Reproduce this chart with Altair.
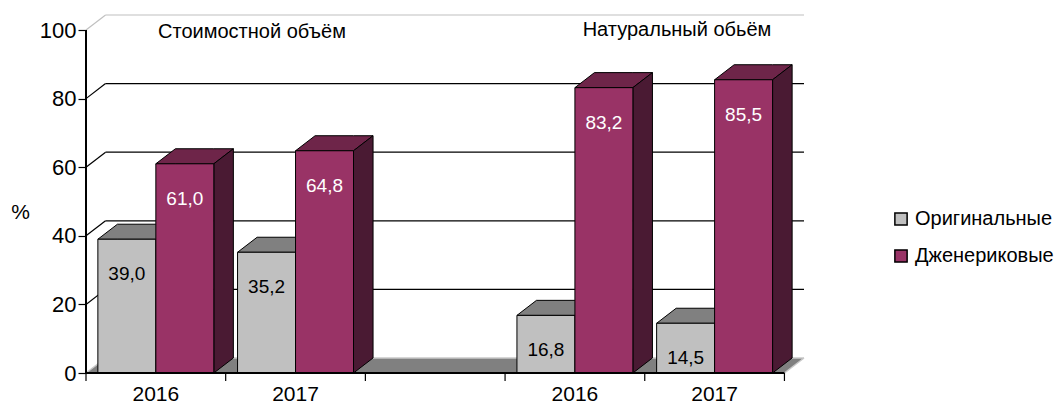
import altair as alt
import pandas as pd

# ---- data ----
years = ["2016", "2017", "2016", "2017"]
groups = ["Стоимостной объём", "Стоимостной объём", "Натуральный обьём", "Натуральный обьём"]
series = ["Оригинальные", "Дженериковые"]
original = [39.0, 35.2, 16.8, 14.5]
generic = [61.0, 64.8, 83.2, 85.5]
y_ticks = [0, 20, 40, 60, 80, 100]

# ---- style ----
front_colors = ["#C0C0C0", "#993366"]
top_colors = ["#808080", "#6E2549"]
side_colors = ["#9A9A9A", "#4A1A33"]
label_colors = ["black", "white"]
FONT = "Liberation Sans"
DX = 0.14   # depth (x units)
DY = 4.38   # depth (y units)
BAR = 0.415
W, H = 718, 358

group_names = list(dict.fromkeys(groups))
slots = []
seen = {}
for g in groups:
    k = seen.get(g, 0)
    slots.append(group_names.index(g) * 3 + k)
    seen[g] = k + 1
n_slots = len(group_names) * 3 - 1

values = [original, generic]
fronts, faces = [], []
for i in range(len(years)):
    for s in range(2):
        v = values[s][i]
        x0 = slots[i] + 0.5 - BAR + s * BAR
        x1 = x0 + BAR
        fronts.append(dict(x0=x0, x1=x1, xc=(x0 + x1) / 2, v=v, series=series[s],
                           label=f"{v:.1f}".replace(".", ","), tc=label_colors[s]))
        bid = f"{i}-{s}"
        for (x, a, b) in [(x0, v, v), (x0 + DX, v, v + DY), (x1, v, v + DY), (x1 + DX, v + DY, v + DY)]:
            faces.append(dict(id="t" + bid, x=x, y=a, y2=b, c=top_colors[s], s=s))
        for (x, a, b) in [(x1, 0, v), (x1 + DX, DY, v + DY)]:
            faces.append(dict(id="s" + bid, x=x, y=a, y2=b, c=side_colors[s], s=s))

df_front = pd.DataFrame(fronts)
df_faces = pd.DataFrame(faces)

xs = alt.Scale(domain=[0, n_slots + DX], nice=False, zero=False)
ys = alt.Scale(domain=[0, 100 + DY], nice=False)
y_axis = alt.Axis(values=y_ticks, grid=False, domain=False, tickSize=8, tickColor="black",
                  tickWidth=1.2, labelFontSize=22, labelPadding=2, labelColor="black",
                  labelFont=FONT, title="%", titleAngle=0, titleFontSize=21,
                  titleFontWeight="normal", titleFont=FONT, titleColor="black",
                  titleX=-66, titleY=197, titleAlign="center", titleBaseline="middle")


def Y(field, **kw):
    return alt.Y(field, scale=ys, axis=y_axis, **kw)


def X(field):
    return alt.X(field, scale=xs, axis=None)


# floor
df_floor = pd.DataFrame([dict(x=0, y=0, y2=0), dict(x=DX, y=0, y2=DY),
                         dict(x=n_slots, y=0, y2=DY), dict(x=n_slots + DX, y=DY, y2=DY)])
floor = alt.Chart(df_floor).mark_area(color="#808080").encode(
    x=X("x:Q"), y=Y("y:Q", stack=None), y2="y2:Q")
floor_edges = pd.DataFrame([dict(x=DX, x2=n_slots + DX, y=DY, y2=DY),
                            dict(x=n_slots, x2=n_slots + DX, y=0, y2=DY),
                            dict(x=0, x2=DX, y=0, y2=DY)])
floor_edge = alt.Chart(floor_edges).mark_rule(color="#C8C8C8", strokeWidth=1.5).encode(
    x=X("x:Q"), x2="x2:Q", y=Y("y:Q"), y2="y2:Q")

# wall grid
grid_rows = []
for v in y_ticks[1:]:
    col = "#C0C0C0" if v == 100 else "black"
    grid_rows.append(dict(x=DX, x2=n_slots + DX, y=v + DY, y2=v + DY, c=col))
    grid_rows.append(dict(x=0, x2=DX, y=v, y2=v + DY, c=col))
df_grid = pd.DataFrame(grid_rows)
grid = alt.Chart(df_grid).mark_rule(strokeWidth=1.2).encode(
    x=X("x:Q"), x2="x2:Q", y=Y("y:Q"), y2="y2:Q",
    color=alt.Color("c:N", scale=None))


def face_layer(s):
    return alt.Chart(df_faces[df_faces.s == s]).mark_area(stroke="black", strokeWidth=1).encode(
        x=X("x:Q"), y=Y("y:Q", stack=None), y2="y2:Q",
        fill=alt.Fill("c:N", scale=None), detail="id:N")


legend = alt.Legend(title=None, orient="none", legendX=805, legendY=194,
                    symbolType="square", symbolSize=150,
                    symbolStrokeColor="black", symbolStrokeWidth=1.5,
                    labelFontSize=20, labelFont=FONT, labelColor="black",
                    labelOffset=4, rowPadding=17, padding=0)


def front_layer(s):
    return alt.Chart(df_front[df_front.series == series[s]]).mark_rect(stroke="black", strokeWidth=1).encode(
        x=X("x0:Q"), x2="x1:Q", y=Y("v:Q"), y2=alt.datum(0),
        color=alt.Color("series:N", scale=alt.Scale(domain=series, range=front_colors), legend=legend))


labels = alt.Chart(df_front).mark_text(fontSize=19, font=FONT, baseline="middle", dy=35).encode(
    x=X("xc:Q"), y=Y("v:Q"), text="label:N", color=alt.Color("tc:N", scale=None))

# axes lines
df_axes = pd.DataFrame([dict(x=0, x2=0, y=0, y2=100), dict(x=0, x2=n_slots, y=0, y2=0)])
axes = alt.Chart(df_axes).mark_rule(color="black", strokeWidth=2).encode(
    x=X("x:Q"), x2="x2:Q", y=Y("y:Q"), y2="y2:Q")
df_ticks = pd.DataFrame(dict(x=list(range(n_slots + 1))))
xticks = alt.Chart(df_ticks).mark_rule(color="black", strokeWidth=1.2).encode(
    x=X("x:Q"), y=alt.value(H), y2=alt.value(H + 8))

df_years = pd.DataFrame(dict(x=[s + 0.5 for s in slots], t=years))
year_text = alt.Chart(df_years).mark_text(fontSize=21, font=FONT, baseline="middle", color="black").encode(
    x=X("x:Q"), y=alt.value(H + 22), text="t:N")

t1 = alt.Chart(pd.DataFrame(dict(t=[group_names[0]]))).mark_text(
    fontSize=20, font=FONT, baseline="middle", color="black").encode(
    x=alt.value(166), y=alt.value(17), text="t:N")
t2 = alt.Chart(pd.DataFrame(dict(t=[group_names[1]]))).mark_text(
    fontSize=20, font=FONT, baseline="middle", color="black").encode(
    x=alt.value(591), y=alt.value(15), text="t:N")

chart = alt.layer(
    floor, floor_edge, grid,
    face_layer(0), front_layer(0),
    face_layer(1), front_layer(1),
    axes, xticks, labels, year_text, t1, t2,
).properties(
    width=W, height=H,
    autosize=alt.AutoSizeParams(type="none"),
    padding={"left": 86, "top": 15, "right": 1054 - 86 - W, "bottom": 407 - 15 - H},
    background="white",
).configure_view(stroke=None)

chart.save("out.html", embed_options={"renderer": "svg", "actions": False})
